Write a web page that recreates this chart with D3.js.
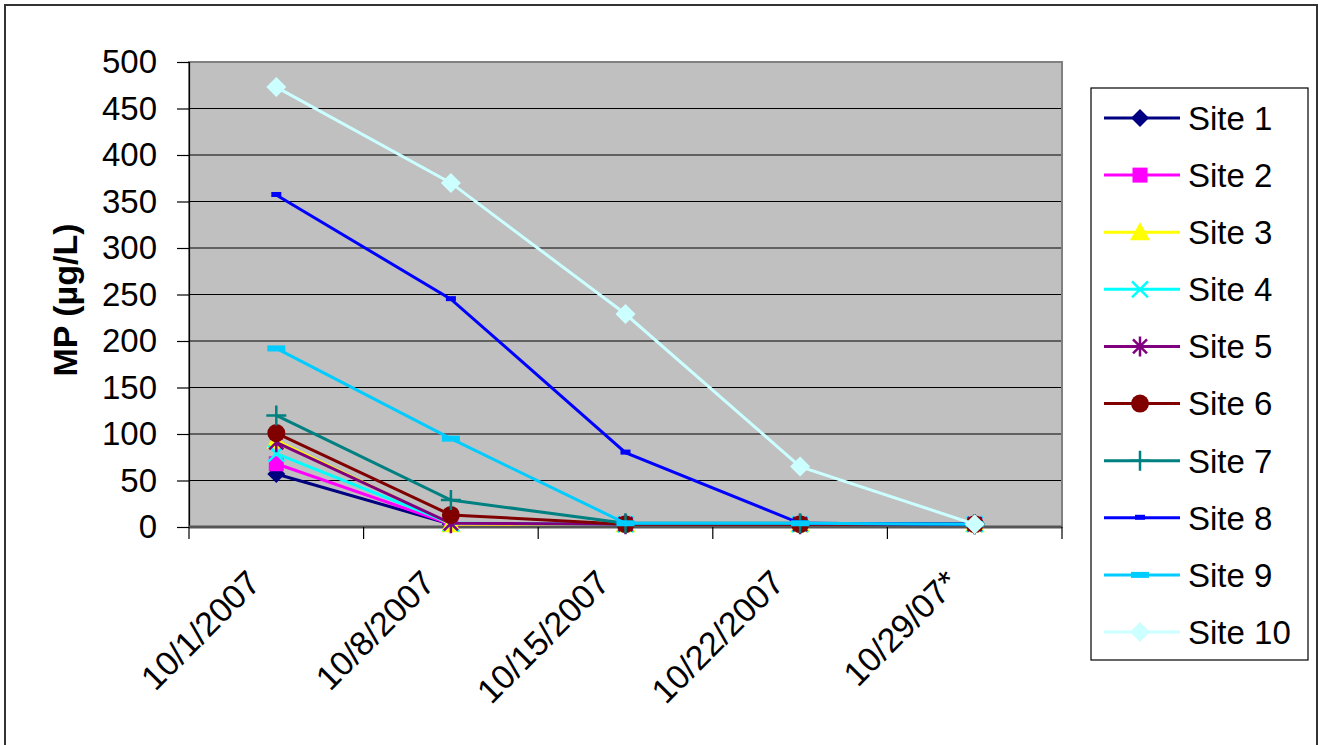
<!DOCTYPE html>
<html>
<head>
<meta charset="utf-8">
<script src="https://cdn.jsdelivr.net/npm/d3@7"></script>
<style>
  html, body { margin: 0; padding: 0; background: #fff; }
  svg { display: block; font-family: Arial, "Liberation Sans", sans-serif; }
</style>
</head>
<body>
<svg id="chart" width="1320" height="745"></svg>
<script>
// Sampling dates (x categories)
const dates = ["10/1/2007", "10/8/2007", "10/15/2007", "10/22/2007", "10/29/07*"];

// MP concentration (µg/L) per site, one value per sampling date
const site1  = [57, 3, 3, 3, 3];
const site2  = [68, 3, 3, 3, 3];
const site3  = [93, 3, 3, 3, 3];
const site4  = [79, 4, 3, 3, 3];
const site5  = [91, 4, 3, 3, 3];
const site6  = [101, 13, 3, 3, 3];
const site7  = [120, 29, 4, 4, 3];
const site8  = [357, 245, 80, 4, 3];
const site9  = [192, 95, 4, 4, 3];
const site10 = [473, 370, 229, 65, 3];

const siteNames = ["Site 1", "Site 2", "Site 3", "Site 4", "Site 5",
                   "Site 6", "Site 7", "Site 8", "Site 9", "Site 10"];
const siteValues = [site1, site2, site3, site4, site5, site6, site7, site8, site9, site10];

const yTicks = [0, 50, 100, 150, 200, 250, 300, 350, 400, 450, 500];

// Line colours and marker shapes per site
const colors = ["#000080", "#FF00FF", "#FFFF00", "#00FFFF", "#800080",
                "#800000", "#008080", "#0000FF", "#00CCFF", "#CCFFFF"];
const shapes = ["diamond", "square", "triangle", "x", "star",
                "circle", "plus", "dash", "wideDash", "bigDiamond"];

const series = siteNames.map((name, i) => ({
  name, color: colors[i], shape: shapes[i],
  values: siteValues[i].map((v, j) => ({ date: dates[j], value: v }))
}));

const svg = d3.select("#chart");

// Outer chart frame
svg.append("rect")
  .attr("x", 5).attr("y", 5).attr("width", 1312).attr("height", 760)
  .attr("fill", "#fff").attr("stroke", "#333").attr("stroke-width", 2);

const plot = { left: 189, right: 1062, top: 62, bottom: 527 };

const x = d3.scaleBand().domain(dates).range([plot.left, plot.right]);
const y = d3.scaleLinear().domain([0, 500]).range([plot.bottom, plot.top]);

// Plot background
svg.append("rect")
  .attr("x", plot.left).attr("y", plot.top)
  .attr("width", plot.right - plot.left).attr("height", plot.bottom - plot.top)
  .attr("fill", "#C0C0C0");

// Horizontal gridlines
svg.append("g").selectAll("line")
  .data(yTicks.filter(t => t > 0 && t < 500))
  .join("line")
  .attr("x1", plot.left).attr("x2", plot.right)
  .attr("y1", d => y(d)).attr("y2", d => y(d))
  .attr("stroke", "#000").attr("stroke-width", 1.2);

// Plot border
svg.append("rect")
  .attr("x", plot.left).attr("y", plot.top)
  .attr("width", plot.right - plot.left).attr("height", plot.bottom - plot.top)
  .attr("fill", "none").attr("stroke", "#808080").attr("stroke-width", 2);

// Y axis
const yAxis = d3.axisLeft(y).tickValues(yTicks).tickSize(12).tickPadding(20);
const gy = svg.append("g").attr("transform", `translate(${plot.left},0)`).call(yAxis);
gy.select(".domain").attr("stroke", "#000").attr("stroke-width", 1.2);
gy.selectAll(".tick line").attr("stroke", "#000").attr("stroke-width", 1.2);
gy.selectAll(".tick text")
  .attr("font-size", 33).attr("fill", "#000")
  .attr("font-family", "Arial, 'Liberation Sans', sans-serif");

// X axis: ticks at category boundaries
const gx = svg.append("g").attr("transform", `translate(0,${plot.bottom})`);
gx.append("line")
  .attr("x1", plot.left).attr("x2", plot.right)
  .attr("stroke", "#555").attr("stroke-width", 3);
const bounds = dates.map(d => x(d)).concat([x(dates[dates.length - 1]) + x.bandwidth()]);
gx.selectAll("line.tk").data(bounds).join("line").attr("class", "tk")
  .attr("x1", d => d).attr("x2", d => d).attr("y1", 0).attr("y2", 12)
  .attr("stroke", "#000").attr("stroke-width", 1.2);
gx.selectAll("text").data(dates).join("text")
  .attr("transform", d => `translate(${x(d) + x.bandwidth() / 2 - 14},58) rotate(-45)`)
  .attr("text-anchor", "end")
  .attr("font-size", 34)
  .attr("fill", "#000")
  .text(d => d);

// Y axis title
svg.append("text")
  .attr("transform", `translate(77,300) rotate(-90)`)
  .attr("text-anchor", "middle")
  .attr("font-size", 34).attr("font-weight", "bold")
  .attr("fill", "#000")
  .text("MP (µg/L)");

// Marker drawing
function drawMarker(g, shape, color) {
  switch (shape) {
    case "diamond":
      g.append("path").attr("d", "M0,-9L9,0L0,9L-9,0Z").attr("fill", color); break;
    case "bigDiamond":
      g.append("path").attr("d", "M0,-10L10,0L0,10L-10,0Z").attr("fill", color); break;
    case "square":
      g.append("rect").attr("x", -7.5).attr("y", -7.5).attr("width", 15).attr("height", 15).attr("fill", color); break;
    case "triangle":
      g.append("path").attr("d", "M0,-10L10,8L-10,8Z").attr("fill", color); break;
    case "circle":
      g.append("circle").attr("r", 9).attr("fill", color); break;
    case "x":
      g.append("path").attr("d", "M-8,-8L8,8M8,-8L-8,8")
        .attr("stroke", color).attr("stroke-width", 2.5).attr("fill", "none"); break;
    case "star":
      g.append("path").attr("d", "M-7,-7L7,7M7,-7L-7,7M0,-10L0,10")
        .attr("stroke", color).attr("stroke-width", 2.5).attr("fill", "none"); break;
    case "plus":
      g.append("path").attr("d", "M-10,0L10,0M0,-10L0,10")
        .attr("stroke", color).attr("stroke-width", 2.5).attr("fill", "none"); break;
    case "dash":
      g.append("rect").attr("x", -5).attr("y", -3).attr("width", 10).attr("height", 5).attr("fill", color); break;
    case "wideDash":
      g.append("rect").attr("x", -9).attr("y", -3).attr("width", 18).attr("height", 6).attr("fill", color); break;
  }
}

const line = d3.line()
  .x(d => x(d.date) + x.bandwidth() / 2)
  .y(d => y(d.value));

// Series lines and markers
const gs = svg.append("g").selectAll("g.series").data(series).join("g").attr("class", "series");
gs.append("path")
  .attr("d", d => line(d.values))
  .attr("fill", "none")
  .attr("stroke", d => d.color)
  .attr("stroke-width", 3);
gs.each(function (s) {
  const g = d3.select(this);
  s.values.forEach(p => {
    const m = g.append("g")
      .attr("transform", `translate(${x(p.date) + x.bandwidth() / 2},${y(p.value)})`);
    drawMarker(m, s.shape, s.color);
  });
});

// Legend
const legend = svg.append("g");
legend.append("rect")
  .attr("x", 1091).attr("y", 88).attr("width", 217).attr("height", 572)
  .attr("fill", "#fff").attr("stroke", "#000").attr("stroke-width", 1.2);
const rowY = d3.scalePoint().domain(siteNames).range([118, 632]);
const rows = legend.selectAll("g.row").data(series).join("g").attr("class", "row")
  .attr("transform", d => `translate(0,${rowY(d.name)})`);
rows.append("line")
  .attr("x1", 1104).attr("x2", 1180)
  .attr("stroke", d => d.color).attr("stroke-width", 3);
rows.each(function (s) {
  const m = d3.select(this).append("g").attr("transform", "translate(1140,0)");
  drawMarker(m, s.shape, s.color);
});
rows.append("text")
  .attr("x", 1188).attr("y", 0).attr("dy", "0.36em")
  .attr("font-size", 33).attr("fill", "#000")
  .text(d => d.name);
</script>
</body>
</html>
